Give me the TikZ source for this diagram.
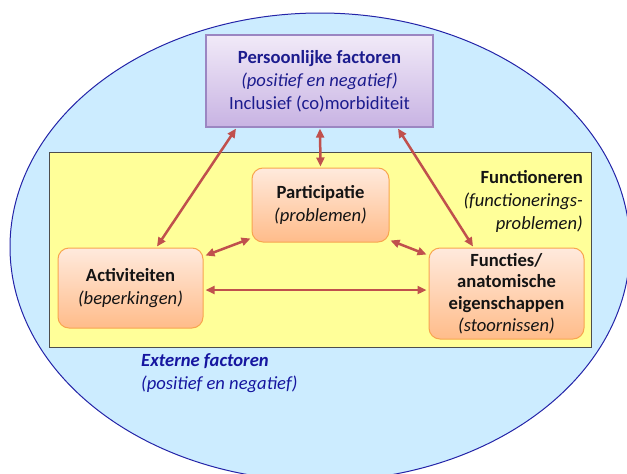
\documentclass[tikz,border=0pt]{standalone}
\usepackage{fontspec}
\setmainfont{Carlito}
\usetikzlibrary{arrows.meta,shapes.geometric,calc}
\definecolor{extfill}{HTML}{CCECFF}
\definecolor{extdraw}{HTML}{2424A8}
\definecolor{funcfill}{HTML}{FFFF99}
\definecolor{funcdraw}{HTML}{4D4D4D}
\definecolor{pertop}{HTML}{F1EAF8}
\definecolor{perbot}{HTML}{C8B3E3}
\definecolor{perdraw}{HTML}{9B86C2}
\definecolor{ortop}{HTML}{FFEADD}
\definecolor{orbot}{HTML}{FFBC8A}
\definecolor{ordraw}{HTML}{F8A54E}
\definecolor{arrowc}{HTML}{C0504D}
\definecolor{navy}{HTML}{1C1C8E}
\definecolor{extblue}{HTML}{1616A0}
\definecolor{txt}{HTML}{141414}
\begin{document}
\begin{tikzpicture}[x=1pt,y=-1pt,
  every node/.style={font=\fontsize{18.6}{23}\selectfont},
  perbox/.style={draw=perdraw, line width=1.2pt, top color=pertop, bottom color=perbot,
    minimum width=227pt, minimum height=92pt, align=center, text=navy},
  orbox/.style={draw=ordraw, line width=1pt, rounded corners=11pt, top color=ortop,
    bottom color=orbot, align=center, text=txt, inner sep=2pt},
  link/.style={draw=arrowc, line width=2.5pt,
    {Triangle[length=9pt,width=8pt]}-{Triangle[length=9pt,width=8pt]}},
]
\useasboundingbox (0,0) rectangle (627,474);
\node[ellipse, draw=extdraw, fill=extfill, line width=1pt, minimum width=620pt,
  minimum height=468pt, inner sep=0pt] (ext) at (320,247) {};
\node[draw=funcdraw, fill=funcfill, line width=1pt, minimum width=542pt,
  minimum height=195pt, inner sep=0pt] (func) at (320,249.5) {};
\node[perbox] (pers) at (319.5,81)
  {\textbf{Persoonlijke factoren}\\ \textit{(positief en negatief)}\\ Inclusief (co)morbiditeit};
\node[orbox, minimum width=137pt, minimum height=74pt] (part) at (320.5,205)
  {\textbf{Participatie}\\ \textit{(problemen)}};
\node[orbox, minimum width=145pt, minimum height=80pt] (act) at (130.5,288)
  {\textbf{Activiteiten}\\ \textit{(beperkingen)}};
\node[orbox, minimum width=155pt, minimum height=91pt,
  font=\fontsize{18.6}{21.7}\selectfont] (fun) at (506.5,293.5)
  {\textbf{Functies/}\\ \textbf{anatomische}\\ \textbf{eigenschappen}\\ \textit{(stoornissen)}};
\node[anchor=north east, inner sep=0pt, align=right, text=txt] (funlbl) at (583,170)
  {\textbf{Functioneren}\\ \textit{(functionerings-}\\ \textit{problemen)}};
\node[anchor=north west, inner sep=0pt, align=left, text=extblue] (extlbl) at (141,353)
  {\textbf{\textit{Externe factoren}}\\ \textit{(positief en negatief)}};
\draw[link] ($(pers.south)+(-83.5,1)$) -- ($(act.north)+(26.5,-1)$);
\draw[link] ($(pers.south)+(0.5,1)$) -- ($(part.north)+(0,-1)$);
\draw[link] ($(pers.south)+(78.5,1)$) -- ($(fun.north)+(-33.5,-1)$);
\draw[link] ($(act.north east)+(2,8)$) -- ($(part.south west)+(-1,-4)$);
\draw[link] ($(part.south east)+(1,-2)$) -- ($(fun.north west)+(-2,7)$);
\draw[link] ($(act.east)+(2,2)$) -- ($(fun.west)+(-2,-3.5)$);
\end{tikzpicture}
\end{document}
